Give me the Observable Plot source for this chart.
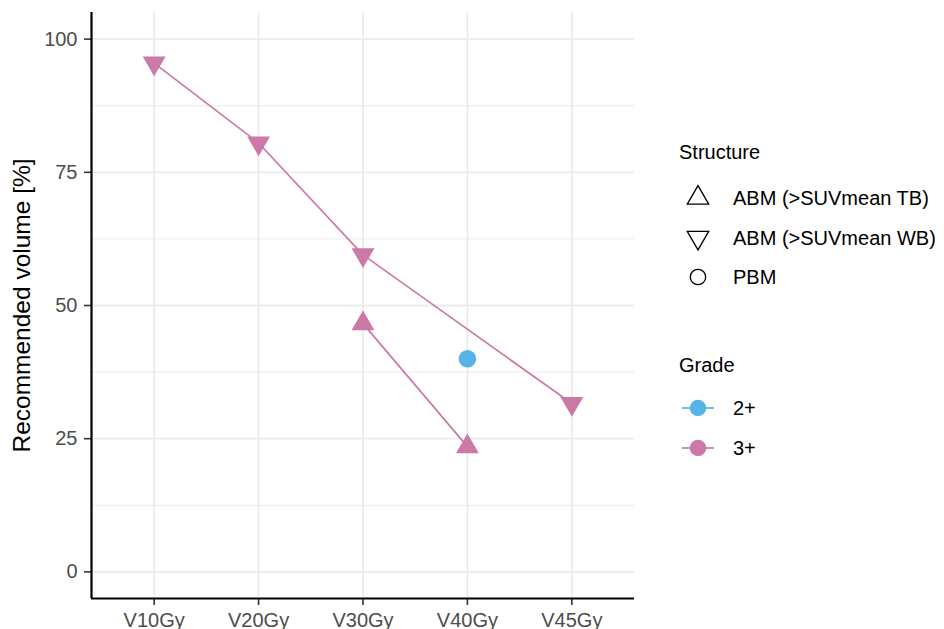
<!DOCTYPE html>
<html>
<head>
<meta charset="utf-8">
<script src="https://cdn.jsdelivr.net/npm/d3@7"></script>
<script src="https://cdn.jsdelivr.net/npm/@observablehq/plot@0.6"></script>
<style>
  html, body { margin: 0; padding: 0; background: #fff; }
  #wrap { position: relative; width: 944px; height: 629px; font-family: 'Liberation Sans', Arial, Helvetica, sans-serif; }
  #legend { position: absolute; left: 0; top: 0; pointer-events: none; }
</style>
</head>
<body>
<div id="wrap"></div>
<script>
// ---- data ----
const categories = ["V10Gy", "V20Gy", "V30Gy", "V40Gy", "V45Gy"];
const structures = ["ABM (>SUVmean TB)", "ABM (>SUVmean WB)", "PBM"];
const grades = ["2+", "3+"];
const gradeColors = ["#56B4E9", "#CC79A7"];

const pointCategory  = ["V10Gy", "V20Gy", "V30Gy", "V45Gy", "V30Gy", "V40Gy", "V40Gy"];
const pointStructure = ["ABM (>SUVmean WB)", "ABM (>SUVmean WB)", "ABM (>SUVmean WB)", "ABM (>SUVmean WB)",
                        "ABM (>SUVmean TB)", "ABM (>SUVmean TB)", "PBM"];
const pointGrade     = ["3+", "3+", "3+", "3+", "3+", "3+", "2+"];
const pointValue     = [95.5, 80.5, 59.5, 31.6, 46.6, 23.5, 40];

const yMajorTicks = [0, 25, 50, 75, 100];
const yMinorTicks = [12.5, 37.5, 62.5, 87.5];
const yLabel = "Recommended volume [%]";

// ---- table ----
const data = pointValue.map((v, i) => ({
  cat: pointCategory[i],
  xi: categories.indexOf(pointCategory[i]),
  structure: pointStructure[i],
  grade: pointGrade[i],
  value: v
})).sort((a, b) => a.xi - b.xi);

const colorScale = {domain: grades, range: gradeColors};
const font = "'Liberation Sans', Arial, Helvetica, sans-serif";

const chart = Plot.plot({
  width: 944,
  height: 629,
  marginLeft: 91,
  marginRight: 310,
  marginTop: 12,
  marginBottom: 31,
  style: {fontFamily: font, background: "#fff"},
  x: {domain: [-0.6, categories.length - 1 + 0.6], axis: null},
  y: {domain: [-5, 105], axis: null},
  color: colorScale,
  marks: [
    // grid
    Plot.ruleY(yMinorTicks, {stroke: "#ebebeb", strokeWidth: 1.0}),
    Plot.ruleY(yMajorTicks, {stroke: "#ebebeb", strokeWidth: 1.8}),
    Plot.ruleX(d3.range(categories.length), {stroke: "#ebebeb", strokeWidth: 1.8}),
    // axes
    Plot.axisX({
      ticks: d3.range(categories.length),
      tickFormat: i => categories[i],
      tickSize: 7, tickPadding: 7, fontSize: 20,
      fill: "#4d4d4d", stroke: "#333333", strokeWidth: 1.6, label: null
    }),
    Plot.axisY({
      ticks: yMajorTicks,
      tickSize: 7, tickPadding: 7, fontSize: 20,
      fill: "#4d4d4d", stroke: "#333333", strokeWidth: 1.6, label: null
    }),
    Plot.ruleY([-5], {stroke: "black", strokeWidth: 2.2}),
    Plot.ruleX([-0.6], {stroke: "black", strokeWidth: 2.2}),
    Plot.text([yLabel], {frameAnchor: "left", dx: -69, rotate: -90, textAnchor: "middle",
      lineAnchor: "middle", fontSize: 24.5, fill: "black"}),
    // lines
    Plot.line(data, {x: "xi", y: "value", z: "structure", stroke: "grade", strokeWidth: 1.7}),
    // points
    Plot.dot(data.filter(d => d.structure === structures[0]),
      {x: "xi", y: "value", symbol: "triangle", r: 8.5, fill: "grade", stroke: "none"}),
    Plot.dot(data.filter(d => d.structure === structures[1]),
      {x: "xi", y: "value", symbol: "triangle", rotate: 180, r: 8.5, fill: "grade", stroke: "none"}),
    Plot.dot(data.filter(d => d.structure === structures[2]),
      {x: "xi", y: "value", symbol: "circle", r: 8.8, fill: "grade", stroke: "none"})
  ]
});

const wrap = document.getElementById("wrap");
wrap.appendChild(chart);

// ---- legend ----
const lg = d3.select(wrap).append("svg")
  .attr("id", "legend").attr("width", 944).attr("height", 629)
  .style("font-family", font);

lg.append("text").attr("x", 679).attr("y", 158.5).attr("font-size", 20).attr("fill", "black").text("Structure");
const structSymbols = [
  {sym: d3.symbolTriangle, rot: 0},
  {sym: d3.symbolTriangle, rot: 180},
  {sym: d3.symbolCircle, rot: 0}
];
const structSizes = [200, 200, 185];
structures.forEach((s, i) => {
  const cy = 198 + i * 39.5;
  lg.append("path")
    .attr("d", d3.symbol(structSymbols[i].sym, structSizes[i])())
    .attr("transform", `translate(698,${cy}) rotate(${structSymbols[i].rot})`)
    .attr("fill", "none").attr("stroke", "black").attr("stroke-width", 1.3);
  lg.append("text").attr("x", 733).attr("y", cy + 7.3).attr("font-size", 20).attr("fill", "black").text(s);
});

lg.append("text").attr("x", 679).attr("y", 371.7).attr("font-size", 20).attr("fill", "black").text("Grade");
grades.forEach((g, i) => {
  const cy = 408 + i * 40;
  lg.append("line").attr("x1", 682).attr("x2", 714).attr("y1", cy).attr("y2", cy)
    .attr("stroke", gradeColors[i]).attr("stroke-width", 1.7);
  lg.append("circle").attr("cx", 698).attr("cy", cy).attr("r", 8.3).attr("fill", gradeColors[i]);
  lg.append("text").attr("x", 733).attr("y", cy + 7.3).attr("font-size", 20).attr("fill", "black").text(g);
});
</script>
</body>
</html>
